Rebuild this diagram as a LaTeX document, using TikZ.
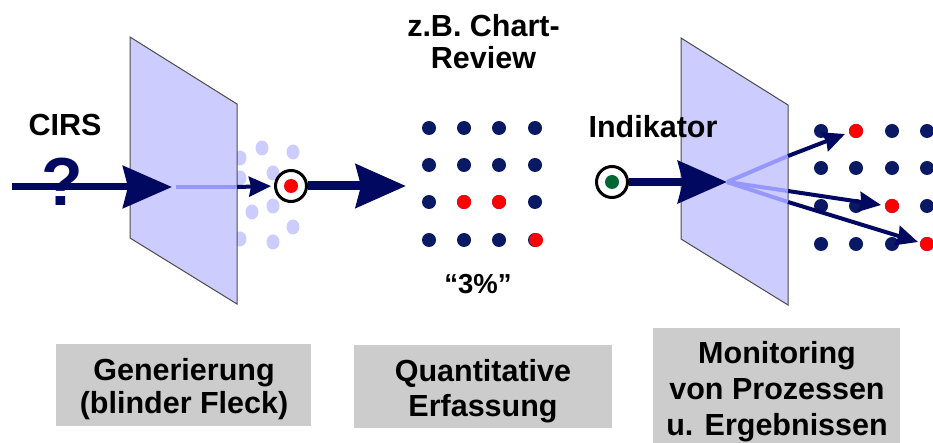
\documentclass[tikz,border=0pt]{standalone}
\usepackage{fontspec}
\setmainfont{Liberation Sans}
\usetikzlibrary{arrows.meta}
\definecolor{navy}{RGB}{0,8,96}
\definecolor{dotnavy}{RGB}{10,25,100}
\definecolor{panelfill}{RGB}{204,204,255}
\definecolor{ghostblue}{RGB}{150,150,255}
\definecolor{boxgray}{RGB}{204,204,204}
\definecolor{dkgreen}{RGB}{0,102,51}
\begin{document}
\begin{tikzpicture}[x=1pt,y=-1pt,
  lbl/.style={inner sep=0pt, anchor=base, font=\fontsize{30.5}{34}\selectfont\bfseries},
  panel/.style={fill=panelfill, draw=black!70, line width=1pt, line join=miter},
  gbox/.style={fill=boxgray, draw=none, inner sep=0pt},
  bigarrow/.style={navy, line width=8pt, -{Stealth[length=49pt,width=42pt,inset=5pt]}},
  smallarrow/.style={navy, line width=4pt, -{Stealth[length=22pt,width=20pt,inset=2pt]}},
  ghostline/.style={ghostblue, line width=4pt},
  eye/.style={circle, draw=black, line width=3pt, fill=white, minimum size=31pt, inner sep=0pt},
  pupil/.style={circle, inner sep=0pt, minimum size=14pt},
  gdot/.style={circle, fill=dotnavy, inner sep=0pt, minimum size=14pt},
  rdot/.style={circle, fill=red, inner sep=0pt, minimum size=14pt}]
\useasboundingbox (0,0) rectangle (933,443);

% ---------- left: blind spot ----------
\foreach \px/\py in {240/158, 262/148, 293/152, 273/173, 240/178, 252/212, 273/206, 293/227, 240/239, 273/242}
  \fill[panelfill] (\px,\py) ellipse [x radius=6.5pt, y radius=7.5pt];
\draw[panel] (130,37) -- (237,104) -- (237,304) -- (130,238) -- cycle;

\node[lbl] (cirs) at (65,136) {CIRS};
\node[inner sep=0pt, text=navy, font=\fontsize{68}{72}\selectfont\bfseries] (qmark) at (62,182) {?};

\coordinate (inL) at (12,187);
\coordinate (tipL) at (172,187);
\coordinate (edgeL) at (237,187);
\draw[bigarrow, line width=7pt] (inL) -- (tipL);
\draw[ghostline] ([xshift=4pt]tipL) -- (edgeL);

\node[eye] (eye1) at (291,186) {};
\node[pupil, fill=red] (pupil1) at (eye1.center) {};
\draw[smallarrow, shorten >=3pt] (edgeL) -- (eye1.west);

\coordinate (tipM) at (406,186);
\draw[bigarrow, line width=9pt, -{Stealth[length=50pt,width=43pt,inset=5pt]}] (eye1.east) -- (tipM);

% ---------- middle: chart review ----------
\node[lbl] (zb) at (483.5,37) {z.B. Chart-};
\node[lbl] (review) at (483.5,69) {Review};

\foreach \px in {429,464,499,535}
  \foreach \py in {128,165,202,240}
    \node[gdot] at (\px,\py) {};
\node[rdot] (m1) at (464,202) {};
\node[rdot] (m2) at (499,202) {};
\node[rdot] (m3) at (536,240) {};

\node[inner sep=0pt, anchor=base, font=\fontsize{27.5}{30}\selectfont\bfseries] (pct) at (478,294) {“3\%”};

% ---------- right: indicator ----------
\foreach \px in {821,856,892,927}
  \foreach \py in {131,168,206,244}
    \node[gdot] at (\px,\py) {};
\node[rdot] (r1) at (856,131) {};
\node[rdot] (r2) at (892,206) {};
\node[rdot] (r3) at (927,244) {};

\draw[panel] (681,38) -- (788,105) -- (788,305) -- (681,239) -- cycle;
\node[lbl] (indik) at (653,138) {Indikator};

\node[eye] (eye2) at (612,182) {};
\node[pupil, fill=dkgreen] (pupil2) at (eye2.center) {};
\coordinate (tipR) at (727,182);
\draw[bigarrow] (eye2.east) -- (tipR);

\coordinate (e1) at (788,156);
\coordinate (e2) at (788,191);
\coordinate (e3) at (788,202);
\coordinate (t1) at (845,134);
\coordinate (t2) at (881,205);
\coordinate (t3) at (918,242);
\draw[ghostline] (tipR) -- (e1);
\draw[ghostline] (tipR) -- (e2);
\draw[ghostline] (tipR) -- (e3);
\draw[smallarrow] (e1) -- (t1);
\draw[smallarrow] (e2) -- (t2);
\draw[smallarrow] (e3) -- (t3);

% ---------- bottom captions ----------
\node[gbox, minimum width=255pt, minimum height=82pt] (box1) at (183.5,385) {};
\node[lbl] (b1a) at (184,380) {Generierung};
\node[lbl] (b1b) at (184,413) {(blinder Fleck)};

\node[gbox, minimum width=258pt, minimum height=83pt] (box2) at (483,386.5) {};
\node[lbl] (b2a) at (483,381) {Quantitative};
\node[lbl] (b2b) at (483,416) {Erfassung};

\node[gbox, minimum width=247pt, minimum height=115pt] (box3) at (776.5,385.5) {};
\node[lbl] (b3a) at (777,363) {Monitoring};
\node[lbl] (b3b) at (777,399.5) {von Prozessen};
\node[lbl] (b3c) at (777,435.5) {u. Ergebnissen};
\end{tikzpicture}
\end{document}
